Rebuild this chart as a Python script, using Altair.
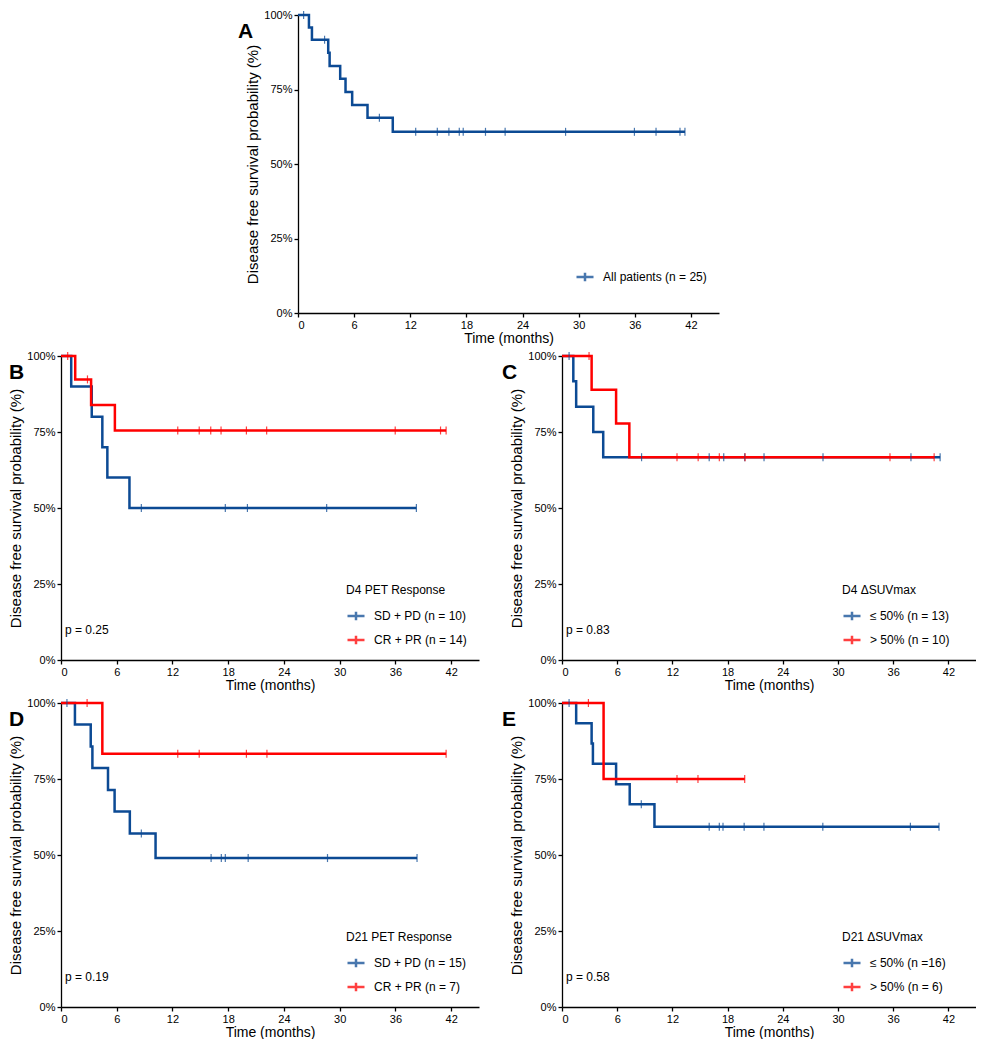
import altair as alt
import pandas as pd

FONT = "Liberation Sans"
BLUE = "#0C4A94"
RED = "#FF0000"

x_ticks = [0, 6, 12, 18, 24, 30, 36, 42]
y_ticks = [0, 0.25, 0.5, 0.75, 1.0]

# ---- Panel A: all patients ----
A_all_label = "All patients (n = 25)"
A_all_event_t = [1.17, 1.49, 3.23, 3.38, 4.51, 5.08, 5.79, 7.43, 10.13]
A_all_event_s = [0.958, 0.917, 0.873, 0.829, 0.786, 0.742, 0.698, 0.655, 0.608]
A_all_censor = [0.6, 2.84, 8.7, 12.58, 14.89, 16.13, 17.24, 17.66, 20.04, 22.14,
                28.6, 35.96, 38.27, 40.83, 41.36]

# ---- Panel B: D4 PET response ----
B_title = "D4 PET Response"
B_p = "p = 0.25"
B_blue_label = "SD + PD (n = 10)"
B_blue_event_t = [1.1, 3.31, 4.45, 4.99, 7.37]
B_blue_event_s = [0.9, 0.8, 0.7, 0.6, 0.5]
B_blue_censor = [8.65, 17.69, 20.07, 28.6, 38.26]
B_red_label = "CR + PR (n = 14)"
B_red_event_t = [1.53, 3.24, 5.8]
B_red_event_s = [0.923, 0.839, 0.755]
B_red_censor = [0.72, 2.85, 12.57, 14.88, 16.12, 17.23, 19.96, 22.14, 35.98, 40.86, 41.46]

# ---- Panel C: D4 dSUVmax ----
C_title = "D4 ΔSUVmax"
C_p = "p = 0.83"
C_blue_label = "≤ 50% (n = 13)"
C_blue_event_t = [1.23, 1.54, 3.4, 4.48]
C_blue_event_s = [0.917, 0.833, 0.75, 0.667]
C_blue_censor = [0.77, 8.65, 16.0, 17.58, 19.86, 21.96, 28.37, 37.93, 41.1]
C_red_label = "> 50% (n = 10)"
C_red_event_t = [3.22, 5.88, 7.32]
C_red_event_s = [0.889, 0.778, 0.667]
C_red_censor = [2.94, 12.5, 14.8, 17.1, 19.9, 35.65, 40.45]

# ---- Panel D: D21 PET response ----
D_title = "D21 PET Response"
D_p = "p = 0.19"
D_blue_label = "SD + PD (n = 15)"
D_blue_event_t = [1.5, 3.2, 3.38, 5.06, 5.77, 7.41, 10.18]
D_blue_event_s = [0.929, 0.857, 0.786, 0.714, 0.643, 0.571, 0.49]
D_blue_censor = [0.64, 8.65, 16.16, 17.26, 17.69, 20.15, 28.69, 38.33]
D_red_label = "CR + PR (n = 7)"
D_red_event_t = [4.45]
D_red_event_s = [0.833]
D_red_censor = [2.81, 12.57, 14.88, 19.96, 22.17, 41.46]

# ---- Panel E: D21 dSUVmax ----
E_title = "D21 ΔSUVmax"
E_p = "p = 0.58"
E_blue_label = "≤ 50% (n =16)"
E_blue_event_t = [1.54, 3.22, 3.36, 5.88, 7.36, 10.05]
E_blue_event_s = [0.933, 0.867, 0.8, 0.733, 0.667, 0.593]
E_blue_censor = [0.77, 8.62, 16.0, 17.1, 17.5, 19.8, 21.95, 28.35, 37.87, 40.98]
E_red_label = "> 50% (n = 6)"
E_red_event_t = [4.52]
E_red_event_s = [0.75]
E_red_censor = [2.87, 12.5, 14.78, 19.86]


def group_frames(label, ev_t, ev_s, cens):
    t_end = max(list(cens) + list(ev_t))
    rows = [(0.0, 1.0)] + list(zip(ev_t, ev_s)) + [(t_end, ev_s[-1])]
    line = pd.DataFrame(rows, columns=["t", "s"])
    line["group"] = label
    cy = []
    for tc in cens:
        s = 1.0
        for t, sv in zip(ev_t, ev_s):
            if t <= tc:
                s = sv
        cy.append(s)
    cdf = pd.DataFrame({"t": cens, "s": cy})
    cdf["group"] = label
    return line, cdf


SYMBOL = "M-1,0H1M0,-0.5V0.5"


def panel(letter, groups, legend_title, p_text, width, height, leg_x, leg_y, letter_x):
    lines, cens = [], []
    for g in groups:
        l, c = group_frames(*g[:4])
        lines.append(l)
        cens.append(c)
    line_df = pd.concat(lines, ignore_index=True)
    cens_df = pd.concat(cens, ignore_index=True)
    labels = [g[0] for g in groups]
    colors = [g[4] for g in groups]
    scale = alt.Scale(domain=labels, range=colors)
    leg_kwargs = dict(
        orient="none", legendX=leg_x, legendY=leg_y,
        symbolType=SYMBOL, symbolSize=289, symbolStrokeWidth=2.5,
        labelFontSize=12, labelFont=FONT, labelColor="black", labelOffset=8,
        titleFontSize=12, titleFont=FONT, titleFontWeight="normal", titleColor="black",
        titlePadding=9, rowPadding=4,
    )
    if legend_title:
        leg = alt.Legend(title=legend_title, **leg_kwargs)
    else:
        leg = alt.Legend(title=None, **leg_kwargs)
    x = alt.X("t:Q", scale=alt.Scale(domain=[0, 45], nice=False),
              axis=alt.Axis(values=x_ticks, title="Time (months)"))
    y = alt.Y("s:Q", scale=alt.Scale(domain=[0, 1], nice=False),
              axis=alt.Axis(values=y_ticks, format=".0%",
                            title="Disease free survival probability (%)"))
    color = alt.Color("group:N", scale=scale, legend=leg, sort=labels)
    line = alt.Chart(line_df).mark_line(interpolate="step-after", strokeWidth=2.5).encode(
        x=x, y=y, color=color)
    pts = alt.Chart(cens_df).mark_point(shape="M0,-1V1", size=64, strokeWidth=1.2,
                                        filled=False, opacity=0.75).encode(
        x=x, y=y, color=color)
    layers = [line, pts]
    lt = alt.Chart(pd.DataFrame({"txt": [letter]})).mark_text(
        font=FONT, fontSize=21, fontWeight="bold", align="left", baseline="alphabetic",
        color="black").encode(text="txt:N", x=alt.value(letter_x), y=alt.value(23))
    layers.append(lt)
    if p_text:
        pt = alt.Chart(pd.DataFrame({"txt": [p_text]})).mark_text(
            font=FONT, fontSize=12, align="left", baseline="alphabetic",
            color="black").encode(text="txt:N", x=alt.value(4), y=alt.value(height - 26))
        layers.append(pt)
    return alt.layer(*layers).properties(width=width, height=height)


HA, HB = 298, 304
WA, WB, WC = 421, 418, 414

pA = panel("A", [(A_all_label, A_all_event_t, A_all_event_s, A_all_censor, BLUE)],
           None, None, WA, HA, 277, HA - 46, -60)
pB = panel("B", [(B_blue_label, B_blue_event_t, B_blue_event_s, B_blue_censor, BLUE),
                 (B_red_label, B_red_event_t, B_red_event_s, B_red_censor, RED)],
           B_title, B_p, WB, HB, 285, HB - 75, -52)
pC = panel("C", [(C_blue_label, C_blue_event_t, C_blue_event_s, C_blue_censor, BLUE),
                 (C_red_label, C_red_event_t, C_red_event_s, C_red_censor, RED)],
           C_title, C_p, WC, HB, 280, HB - 75, -60)
pD = panel("D", [(D_blue_label, D_blue_event_t, D_blue_event_s, D_blue_censor, BLUE),
                 (D_red_label, D_red_event_t, D_red_event_s, D_red_censor, RED)],
           D_title, D_p, WB, HB, 285, HB - 75, -52)
pE = panel("E", [(E_blue_label, E_blue_event_t, E_blue_event_s, E_blue_censor, BLUE),
                 (E_red_label, E_red_event_t, E_red_event_s, E_red_censor, RED)],
           E_title, E_p, WC, HB, 280, HB - 75, -60)

spacer = alt.Chart(pd.DataFrame({"a": [""]})).mark_text().encode(
    text="a:N").properties(width=177, height=10)

rowA = alt.hconcat(spacer, pA, spacing=0).resolve_scale(color="independent")
rowB = alt.hconcat(pB, pC, spacing=23).resolve_scale(color="independent")
rowD = alt.hconcat(pD, pE, spacing=23).resolve_scale(color="independent")

chart = alt.vconcat(rowA, rowB, rowD, spacing=4).resolve_scale(
    color="independent"
).properties(padding=0).configure_view(stroke=None).configure_axis(
    domainColor="black", domainWidth=1.3, tickColor="black", tickWidth=1.3, tickSize=4,
    labelColor="black", labelFont=FONT, labelFontSize=11, labelPadding=2,
    titleColor="black", titleFont=FONT, titleFontSize=15, titleFontWeight="normal",
    grid=False,
).configure_axisX(titlePadding=1, titleFontSize=14).configure_axisY(titlePadding=3).configure_text(font=FONT)

chart.save("out.html", embed_options={"renderer": "svg", "actions": False})
